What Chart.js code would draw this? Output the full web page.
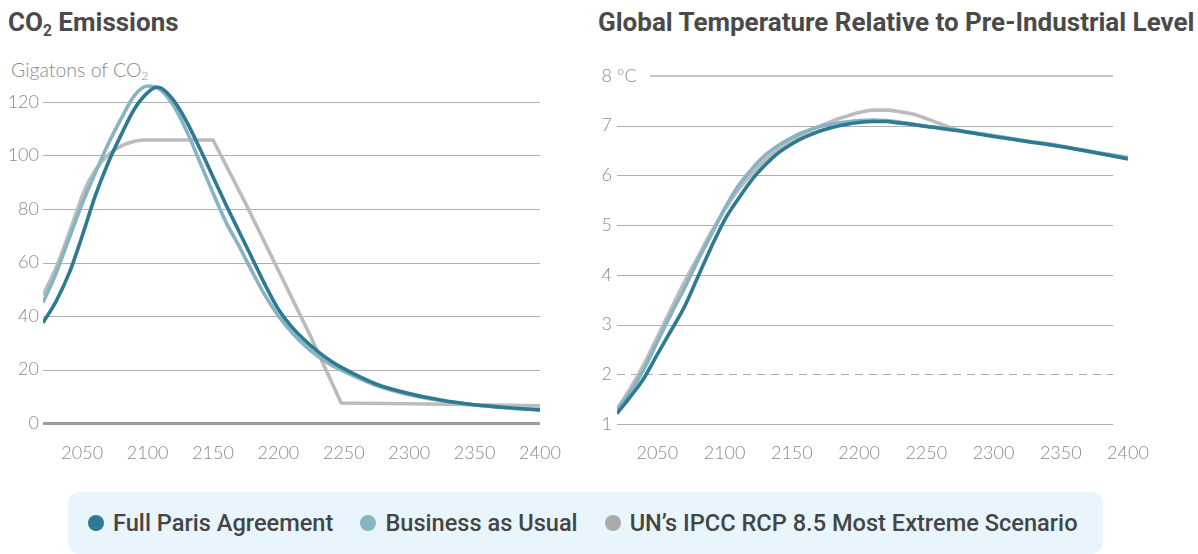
<!DOCTYPE html>
<html><head><meta charset="utf-8">
<script src="https://cdn.jsdelivr.net/npm/chart.js@4/dist/chart.umd.min.js"></script>
<style>
html,body{margin:0;padding:0;background:#fff;width:1198px;height:554px;overflow:hidden;position:relative;font-family:Roboto,sans-serif}
.title{position:absolute;top:6px;font-family:Roboto,sans-serif;font-weight:700;font-size:26px;color:#4a4a4a;white-space:nowrap;line-height:32px}
.title sub{font-size:60%;vertical-align:baseline;position:relative;top:0.3em}
#t1{left:8px}
#t2{left:598px}
#unit{position:absolute;left:11px;top:57px;font-family:Lato,sans-serif;font-weight:300;font-size:19.5px;color:#8a8a8a;white-space:nowrap;line-height:26px}
#unit sub{font-size:62%;vertical-align:baseline;position:relative;top:0.25em}
#c1wrap{position:absolute;left:0;top:60px;width:580px;height:420px}
#c2wrap{position:absolute;left:580px;top:60px;width:600px;height:420px}
#legend{position:absolute;left:68px;top:492px;width:1035px;height:62px;background:#e9f5fc;border-radius:12px;display:flex;align-items:center;padding-left:20px;box-sizing:border-box}
.item{display:flex;align-items:center;margin-right:27px;font-family:Roboto,sans-serif;font-weight:500;font-size:23.6px;color:#454545;white-space:nowrap}
.dot{width:16px;height:16px;border-radius:50%;margin-right:9px;display:inline-block}
</style>
</head><body>
<div class="title" id="t1">CO<sub>2</sub> Emissions</div>
<div class="title" id="t2">Global Temperature Relative to Pre-Industrial Level</div>
<div id="unit">Gigatons of CO<sub>2</sub></div>
<div id="c1wrap"><canvas id="c1"></canvas></div>
<div id="c2wrap"><canvas id="c2"></canvas></div>
<div id="legend"></div>
<script>
// ---------- DATA ----------
const seriesNames = ["Full Paris Agreement", "Business as Usual", "UN\u2019s IPCC RCP 8.5 Most Extreme Scenario"];
const seriesColors = ["#2e7a92", "#86b4c3", "#bcbcbc"];
const legendDotColors = ["#2e7a92", "#86b4c3", "#aaaaaa"];

const xTickLabels = [2050, 2100, 2150, 2200, 2250, 2300, 2350, 2400];
const emisTickLabels = [0, 20, 40, 60, 80, 100, 120];
const tempTickLabels = [1, 2, 3, 4, 5, 6, 7, 8];

// CO2 emissions (gigatons)
const emisYears = [2020,2030,2040,2050,2060,2070,2080,2090,2100,2107,2110,2120,2130,2140,2150,2160,2170,2180,2190,2200,2210,2220,2230,2240,2250,2275,2300,2325,2350,2375,2400];
const emisParis = [37.5,45.5,56,70,85,97.5,108,117.5,123.5,125.5,125.3,120.5,112.5,102.5,92,81.5,71.5,61.5,51.5,42.5,36,31,26.8,23.2,20.3,14.5,11,8.5,6.8,5.7,4.9];
const emisBAUYears = [2020,2030,2040,2050,2060,2070,2080,2090,2100,2110,2120,2130,2140,2150,2160,2170,2180,2190,2200,2210,2220,2230,2240,2250,2275,2300,2325,2350,2375,2400];
const emisBAU = [45,56,69,82,93.5,104.5,114,122.5,126,124.5,118.5,109,97.5,86,75,66,56.5,47.5,40,34,29,25,21.8,19.3,14,10.6,8.3,6.7,5.7,5];
const emisRcpYears = [2020,2025,2030,2035,2040,2045,2050,2055,2060,2065,2070,2075,2080,2085,2090,2096,2150,2175,2200,2225,2248,2300,2350,2400];
const emisRcp = [47.8,52.8,58,64.3,71,78,85,90.5,94.5,97.8,100.3,102.2,103.6,104.6,105.3,105.8,105.8,82,57,32,7.5,7.2,6.8,6.4];

// Temperature (deg C relative to pre-industrial)
const tempYears = [2020,2030,2040,2050,2060,2070,2080,2090,2100,2110,2120,2130,2140,2150,2160,2170,2180,2190,2200,2210,2220,2230,2240,2250,2275,2300,2325,2350,2375,2400];
const tempParis = [1.21,1.55,1.92,2.4,2.87,3.35,3.95,4.55,5.1,5.52,5.9,6.2,6.45,6.63,6.77,6.88,6.96,7.02,7.06,7.08,7.08,7.05,7.02,6.98,6.89,6.78,6.68,6.58,6.46,6.33];
const tempBAU = [1.28,1.65,2.1,2.65,3.2,3.72,4.28,4.8,5.33,5.78,6.12,6.4,6.6,6.76,6.88,6.97,7.03,7.07,7.1,7.11,7.1,7.07,7.03,6.99,6.9,6.79,6.68,6.58,6.46,6.34];
const tempRcp = [1.3,1.72,2.2,2.75,3.3,3.85,4.35,4.85,5.3,5.7,6.02,6.3,6.52,6.7,6.85,6.98,7.09,7.18,7.26,7.31,7.31,7.28,7.23,7.14,6.9,6.8,6.69,6.59,6.47,6.36];

// ---------- helpers ----------
const pts = (xs, ys) => xs.map((x, i) => ({x, y: ys[i]}));
const tickFont = {family: 'Lato, sans-serif', size: 18, weight: '300'};
const tickColor = '#8a8a8a';

const gridPlugin = {
  id: 'customGrid',
  beforeDatasetsDraw(chart, args, opts) {
    const {ctx, chartArea} = chart;
    const ys = chart.scales.y;
    ctx.save();
    ys.ticks.forEach(t => {
      const st = opts.style(t.value);
      let py = Math.round(ys.getPixelForValue(t.value));
      if (st.width % 2 === 1) py += 0.5;
      ctx.beginPath();
      ctx.lineWidth = st.width;
      ctx.strokeStyle = st.color;
      ctx.setLineDash(st.dash || []);
      ctx.moveTo(chartArea.left + (st.startOffset || 0), py);
      ctx.lineTo(chartArea.right - (opts.rightInset || 0), py);
      ctx.stroke();
    });
    ctx.restore();
  }
};

const unitPlugin = {
  id: 'unitLabel',
  afterDraw(chart, args, opts) {
    if (!opts.text) return;
    const {ctx} = chart;
    const ys = chart.scales.y;
    ctx.save();
    ctx.font = '300 18px Lato, sans-serif';
    ctx.fillStyle = tickColor;
    ctx.textAlign = 'left';
    ctx.textBaseline = 'middle';
    ctx.fillText(opts.text, chart.chartArea.left + opts.dx, ys.getPixelForValue(opts.value));
    ctx.restore();
  }
};

function xScale(tickPad, h) {
  return {
    type: 'linear', min: 2020, max: 2400,
    grid: {display: false, drawTicks: false}, border: {display: false},
    afterBuildTicks: s => { s.ticks = xTickLabels.map(v => ({value: v})); },
    afterFit: s => { s.height = h; },
    ticks: {autoSkip: false, maxRotation: 0, padding: tickPad, font: tickFont, color: tickColor, callback: v => String(v)}
  };
}

function ds(i, data, tension) {
  return {
    label: seriesNames[i], data, borderColor: seriesColors[i], backgroundColor: seriesColors[i],
    borderWidth: 3.6, pointRadius: 0, fill: false, borderCapStyle: 'butt', borderJoinStyle: 'round',
    cubicInterpolationMode: tension ? 'monotone' : 'default', tension: tension ? 0.4 : 0
  };
}

const common = {
  responsive: true, maintainAspectRatio: false, animation: false, devicePixelRatio: 1,
  plugins: {legend: {display: false}, tooltip: {enabled: false}, title: {display: false}}
};

// ---------- Emissions chart ----------
new Chart(document.getElementById('c1'), {
  type: 'line',
  data: {datasets: [
    ds(0, pts(emisYears, emisParis), true),
    ds(1, pts(emisBAUYears, emisBAU), true),
    ds(2, pts(emisRcpYears, emisRcp), false)
  ]},
  options: Object.assign({}, common, {
    layout: {padding: {top: 15.25, right: 40, left: 0, bottom: 0}},
    scales: {
      x: xScale(19, 57),
      y: {
        type: 'linear', min: 0, max: 130,
        grid: {display: false, drawTicks: false}, border: {display: false},
        afterBuildTicks: s => { s.ticks = emisTickLabels.map(v => ({value: v})); },
        afterFit: s => { s.width = 43; },
        ticks: {padding: 4, font: tickFont, color: tickColor, callback: v => String(v)}
      }
    },
    plugins: Object.assign({}, common.plugins, {
      customGrid: {rightInset: 0, style: v => v === 0 ? {width: 3, color: '#9c9c9c'} : {width: 1, color: '#b0b0b0'}},
      unitLabel: {}
    })
  }),
  plugins: [gridPlugin, unitPlugin]
});

// ---------- Temperature chart ----------
new Chart(document.getElementById('c2'), {
  type: 'line',
  data: {datasets: [
    ds(0, pts(tempYears, tempParis), true),
    ds(1, pts(tempYears, tempBAU), true),
    ds(2, pts(tempYears, tempRcp), true)
  ]},
  options: Object.assign({}, common, {
    layout: {padding: {top: 15, right: 52, left: 0, bottom: 0}},
    scales: {
      x: xScale(18, 56),
      y: {
        type: 'linear', min: 1, max: 8,
        grid: {display: false, drawTicks: false}, border: {display: false},
        afterBuildTicks: s => { s.ticks = tempTickLabels.map(v => ({value: v})); },
        afterFit: s => { s.width = 37; },
        ticks: {padding: 5, font: tickFont, color: tickColor, callback: v => String(v)}
      }
    },
    plugins: Object.assign({}, common.plugins, {
      customGrid: {rightInset: 15, style: v => {
        if (v === 8) return {width: 2, color: '#c6c6c6', startOffset: 33};
        if (v === 2) return {width: 1, color: '#aaaaaa', dash: [8, 6]};
        return {width: 1, color: '#b0b0b0'};
      }},
      unitLabel: {text: '\u00b0C', value: 8, dx: 0}
    })
  }),
  plugins: [gridPlugin, unitPlugin]
});

// ---------- Legend ----------
const leg = document.getElementById('legend');
seriesNames.forEach((n, i) => {
  const it = document.createElement('div'); it.className = 'item';
  const d = document.createElement('span'); d.className = 'dot'; d.style.background = legendDotColors[i];
  it.appendChild(d); it.appendChild(document.createTextNode(n));
  leg.appendChild(it);
});
</script>
</body></html>
